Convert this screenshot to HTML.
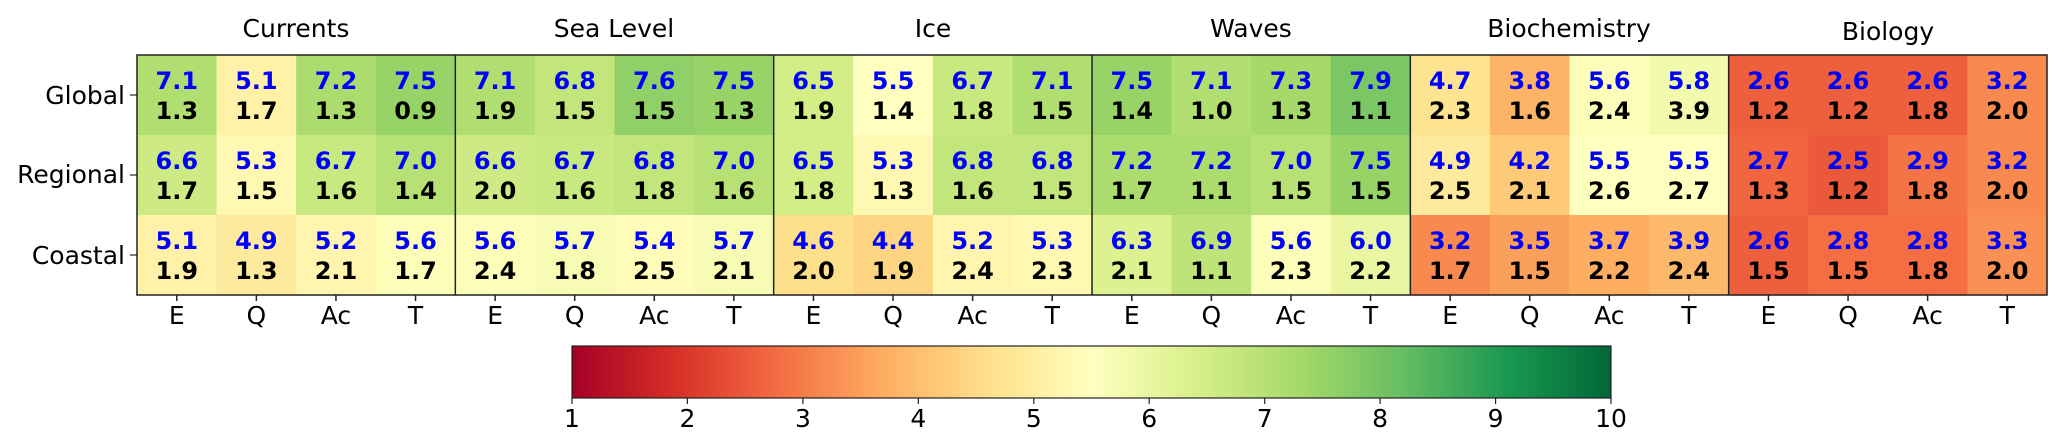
<!DOCTYPE html>
<html><head><meta charset="utf-8"><style>
html,body{margin:0;padding:0;background:#fff;}
svg{display:block;}
text{font-family:"DejaVu Sans","Liberation Sans",sans-serif;}
</style></head><body>
<svg id="s" width="2067" height="447" xmlns="http://www.w3.org/2000/svg">
<defs>
<linearGradient id="cb" x1="0" x2="1" y1="0" y2="0">
<stop offset="0" stop-color="#a50026"/><stop offset="0.1" stop-color="#d73027"/><stop offset="0.2" stop-color="#f46d43"/><stop offset="0.3" stop-color="#fdae61"/><stop offset="0.4" stop-color="#fee08b"/><stop offset="0.5" stop-color="#ffffbf"/><stop offset="0.6" stop-color="#d9ef8b"/><stop offset="0.7" stop-color="#a6d96a"/><stop offset="0.8" stop-color="#66bd63"/><stop offset="0.9" stop-color="#1a9850"/><stop offset="1" stop-color="#006837"/>
</linearGradient>
</defs>
<g id="cells"></g>
<g font-size="25" fill="#000" text-anchor="middle">
<text x="296" y="37">Currents</text>
<text x="614" y="37">Sea Level</text>
<text x="933" y="37">Ice</text>
<text x="1251" y="37">Waves</text>
<text x="1569" y="37">Biochemistry</text>
<text x="1888" y="40">Biology</text>
</g>
<g font-size="25" fill="#000" text-anchor="end">
<text x="125" y="104">Global</text>
<text x="125" y="183">Regional</text>
<text x="125" y="264">Coastal</text>
</g>
<g id="blue" font-size="24" font-weight="bold" fill="#0000ff" text-anchor="middle"></g>
<g id="black" font-size="24" font-weight="bold" fill="#000" text-anchor="middle"></g>
<g id="lines" stroke="#222" stroke-width="1.5"></g>
<rect x="137" y="55" width="1910" height="240" fill="none" stroke="#222" stroke-width="1.5"/>
<g id="xt" font-size="25" fill="#000" text-anchor="middle"></g>
<rect x="572" y="346" width="1039" height="52" fill="url(#cb)" stroke="#222" stroke-width="1.2"/>
<g font-size="25" fill="#000" text-anchor="middle">
<text x="572" y="427">1</text><text x="687.4" y="427">2</text><text x="802.9" y="427">3</text><text x="918.3" y="427">4</text><text x="1033.8" y="427">5</text><text x="1149.2" y="427">6</text><text x="1264.7" y="427">7</text><text x="1380.1" y="427">8</text><text x="1495.6" y="427">9</text><text x="1611" y="427">10</text>
</g>
<g stroke="#222" stroke-width="1.2">
<line x1="572" y1="398" x2="572" y2="404"/><line x1="687.4" y1="398" x2="687.4" y2="404"/><line x1="802.9" y1="398" x2="802.9" y2="404"/><line x1="918.3" y1="398" x2="918.3" y2="404"/><line x1="1033.8" y1="398" x2="1033.8" y2="404"/><line x1="1149.2" y1="398" x2="1149.2" y2="404"/><line x1="1264.7" y1="398" x2="1264.7" y2="404"/><line x1="1380.1" y1="398" x2="1380.1" y2="404"/><line x1="1495.6" y1="398" x2="1495.6" y2="404"/><line x1="1611" y1="398" x2="1611" y2="404"/>
<line x1="130" y1="95" x2="137" y2="95"/><line x1="130" y1="175" x2="137" y2="175"/><line x1="130" y1="255" x2="137" y2="255"/>
</g>
</svg>
<script>
var B=[[7.1,5.1,7.2,7.5,7.1,6.8,7.6,7.5,6.5,5.5,6.7,7.1,7.5,7.1,7.3,7.9,4.7,3.8,5.6,5.8,2.6,2.6,2.6,3.2],
[6.6,5.3,6.7,7.0,6.6,6.7,6.8,7.0,6.5,5.3,6.8,6.8,7.2,7.2,7.0,7.5,4.9,4.2,5.5,5.5,2.7,2.5,2.9,3.2],
[5.1,4.9,5.2,5.6,5.6,5.7,5.4,5.7,4.6,4.4,5.2,5.3,6.3,6.9,5.6,6.0,3.2,3.5,3.7,3.9,2.6,2.8,2.8,3.3]];
var K=[["1.3","1.7","1.3","0.9","1.9","1.5","1.5","1.3","1.9","1.4","1.8","1.5","1.4","1.0","1.3","1.1","2.3","1.6","2.4","3.9","1.2","1.2","1.8","2.0"],
["1.7","1.5","1.6","1.4","2.0","1.6","1.8","1.6","1.8","1.3","1.6","1.5","1.7","1.1","1.5","1.5","2.5","2.1","2.6","2.7","1.3","1.2","1.8","2.0"],
["1.9","1.3","2.1","1.7","2.4","1.8","2.5","2.1","2.0","1.9","2.4","2.3","2.1","1.1","2.3","2.2","1.7","1.5","2.2","2.4","1.5","1.5","1.8","2.0"]];
var S=["#a50026","#d73027","#f46d43","#fdae61","#fee08b","#ffffbf","#d9ef8b","#a6d96a","#66bd63","#1a9850","#006837"];
function h(c){return[parseInt(c.substr(1,2),16),parseInt(c.substr(3,2),16),parseInt(c.substr(5,2),16)];}
function col(v){var t=(v-1)/9*10;var i=Math.min(9,Math.floor(t));var f=t-i;var a=h(S[i]),b=h(S[i+1]);
return "rgb("+a.map(function(x,k){return Math.round(x+(b[k]-x)*f);}).join(",")+")";}
var NS="http://www.w3.org/2000/svg",W=1910/24;
function el(p,n,a,t){var e=document.createElementNS(NS,n);for(var k in a)e.setAttribute(k,a[k]);if(t!=null)e.textContent=t;document.getElementById(p).appendChild(e);}
var X=["E","Q","Ac","T"];
for(var r=0;r<3;r++)for(var c=0;c<24;c++){
var x=137+c*W,y=55+r*80;
el("cells","rect",{x:x,y:y,width:W+0.6,height:80.6,fill:col(B[r][c])});
el("blue","text",{x:x+W/2,y:y+34},B[r][c].toFixed(1));
el("black","text",{x:x+W/2,y:y+64},K[r][c]);
}
for(var c=0;c<24;c++){var x=137+c*W+W/2;el("xt","text",{x:x,y:324},X[c%4]);el("lines","line",{x1:x,y1:295,x2:x,y2:301});}
for(var g=1;g<6;g++){var x=137+g*4*W;el("lines","line",{x1:x,y1:55,x2:x,y2:295});}
</script>
</body></html>
